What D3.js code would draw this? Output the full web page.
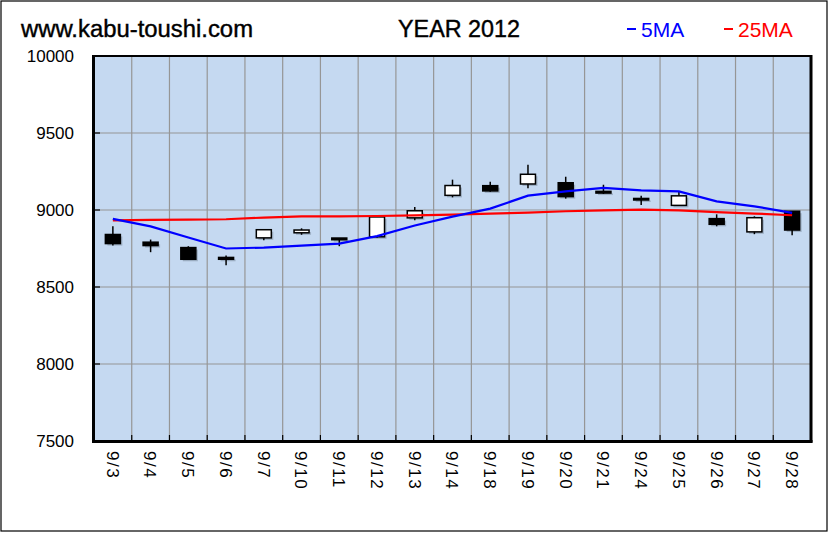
<!DOCTYPE html>
<html>
<head>
<meta charset="utf-8">
<script src="https://cdn.jsdelivr.net/npm/d3@7"></script>
<style>
  html, body { margin: 0; padding: 0; background: #fff; }
  svg { display: block; }
  text { font-family: "Liberation Sans", Arial, sans-serif; }
</style>
</head>
<body>
<svg id="chart" width="830" height="534"></svg>
<script>
const dates = ["9/3","9/4","9/5","9/6","9/7","9/10","9/11","9/12","9/13","9/14","9/18","9/19","9/20","9/21","9/24","9/25","9/26","9/27","9/28"];
const openV  = [8841, 8791, 8756, 8692, 8819, 8852, 8818, 8826, 8949, 9095, 9158, 9169, 9177, 9121, 9075, 9030, 8944, 8858, 8992];
const highV  = [8894, 8808, 8765, 8705, 8873, 8881, 8818, 8960, 9020, 9197, 9184, 9294, 9216, 9164, 9093, 9117, 8972, 8959, 8992];
const lowV   = [8769, 8726, 8679, 8642, 8804, 8839, 8765, 8819, 8933, 9082, 9119, 9141, 9074, 9104, 9033, 9030, 8894, 8843, 8836];
const closeV = [8782, 8769, 8680, 8680, 8872, 8870, 8807, 8955, 8995, 9159, 9124, 9232, 9087, 9110, 9065, 9092, 8907, 8950, 8870];
const ma5  = [8942, 8894, 8821, 8750, 8756, 8769, 8782, 8830, 8899, 8957, 9009, 9093, 9121, 9143, 9128, 9121, 9056, 9024, 8981];
const ma25 = [8933, 8936, 8938, 8940, 8951, 8958, 8959, 8961, 8965, 8970, 8977, 8983, 8992, 8998, 9002, 8998, 8986, 8977, 8966];
const yTicks = [7500, 8000, 8500, 9000, 9500, 10000];
const titleLeft = "www.kabu-toushi.com";
const titleMid = "YEAR 2012";
const legendItems = [{label: "5MA", color: "#0000FF"}, {label: "25MA", color: "#FF0000"}];

const svg = d3.select("#chart");
const L = 94, R = 811, T = 56, B = 441;

const x = d3.scaleBand().domain(dates).range([L, R]).padding(0);
const y = d3.scaleLinear().domain([7500, 10000]).range([B, T]);

// outer border
svg.append("rect").attr("x", 1).attr("y", 1).attr("width", 826).attr("height", 530)
  .attr("fill", "#fff").attr("stroke", "#000").attr("stroke-width", 1.2);

// plot background
svg.append("rect").attr("x", L).attr("y", T).attr("width", R - L).attr("height", B - T)
  .attr("fill", "#C5D9F1");

// horizontal gridlines
svg.append("g").selectAll("line").data(yTicks.filter(d => d > 7500 && d < 10000)).join("line")
  .attr("x1", L).attr("x2", R).attr("y1", d => y(d)).attr("y2", d => y(d))
  .attr("stroke", "#969696").attr("stroke-width", 1.2);

// vertical gridlines
svg.append("g").selectAll("line").data(dates.slice(1)).join("line")
  .attr("x1", d => x(d)).attr("x2", d => x(d)).attr("y1", T).attr("y2", B)
  .attr("stroke", "#969696").attr("stroke-width", 1.2);

// tick marks: left axis (inward), bottom axis (inward)
svg.append("g").selectAll("line").data(yTicks).join("line")
  .attr("x1", L).attr("x2", L + 6).attr("y1", d => y(d)).attr("y2", d => y(d))
  .attr("stroke", "#000").attr("stroke-width", 1.2);
svg.append("g").selectAll("line").data(dates.slice(1)).join("line")
  .attr("x1", d => x(d)).attr("x2", d => x(d)).attr("y1", B - 6).attr("y2", B)
  .attr("stroke", "#000").attr("stroke-width", 1.2);

// candles
const idx = d3.range(dates.length);
const cw = 15;
const cg = svg.append("g");
// shadows
cg.selectAll("rect.sh").data(idx).join("rect").attr("class", "sh")
  .attr("x", i => x(dates[i]) + x.bandwidth() / 2 - cw / 2 + 2)
  .attr("y", i => y(Math.max(openV[i], closeV[i])) + 2)
  .attr("width", cw)
  .attr("height", i => Math.max(1.5, y(Math.min(openV[i], closeV[i])) - y(Math.max(openV[i], closeV[i]))))
  .attr("fill", "#6f7f90").attr("opacity", 0.45);
cg.selectAll("line.wick").data(idx).join("line").attr("class", "wick")
  .attr("x1", i => x(dates[i]) + x.bandwidth() / 2)
  .attr("x2", i => x(dates[i]) + x.bandwidth() / 2)
  .attr("y1", i => y(highV[i])).attr("y2", i => y(lowV[i]))
  .attr("stroke", "#000").attr("stroke-width", 1.5);
cg.selectAll("rect.body").data(idx).join("rect").attr("class", "body")
  .attr("x", i => x(dates[i]) + x.bandwidth() / 2 - cw / 2)
  .attr("y", i => y(Math.max(openV[i], closeV[i])))
  .attr("width", cw)
  .attr("height", i => Math.max(1.5, y(Math.min(openV[i], closeV[i])) - y(Math.max(openV[i], closeV[i]))))
  .attr("fill", i => closeV[i] >= openV[i] ? "#fff" : "#000")
  .attr("stroke", "#000").attr("stroke-width", 1.5);

// moving averages
const line = d3.line().x((d, i) => x(dates[i]) + x.bandwidth() / 2).y(d => y(d));
svg.append("path").datum(ma25).attr("d", line).attr("fill", "none")
  .attr("stroke", "#FF0000").attr("stroke-width", 2.2);
svg.append("path").datum(ma5).attr("d", line).attr("fill", "none")
  .attr("stroke", "#0000FF").attr("stroke-width", 2.2);

// frame
svg.append("line").attr("x1", L).attr("x2", R).attr("y1", T).attr("y2", T).attr("stroke", "#000").attr("stroke-width", 2);
svg.append("line").attr("x1", L - 0.5).attr("x2", L - 0.5).attr("y1", T - 1).attr("y2", B + 1.5).attr("stroke", "#000").attr("stroke-width", 3);
svg.append("line").attr("x1", R).attr("x2", R).attr("y1", T - 1).attr("y2", B + 1.5).attr("stroke", "#000").attr("stroke-width", 3);
svg.append("line").attr("x1", L - 2).attr("x2", R + 1.5).attr("y1", B + 0.5).attr("y2", B + 0.5).attr("stroke", "#000").attr("stroke-width", 3);

// y labels
svg.append("g").selectAll("text").data(yTicks).join("text")
  .attr("x", 74).attr("y", d => y(d)).attr("dy", "0.36em")
  .attr("text-anchor", "end").attr("font-size", 17).attr("fill", "#000")
  .text(d => d);

// x labels (rotated)
svg.append("g").selectAll("text").data(dates).join("text")
  .attr("transform", d => `translate(${x(d) + x.bandwidth() / 2},451) rotate(90)`)
  .attr("dy", "0.36em").attr("text-anchor", "start")
  .attr("font-size", 17).attr("letter-spacing", "1.5px").attr("fill", "#000")
  .text(d => d);

// titles
svg.append("text").attr("x", 21).attr("y", 37).attr("font-size", 23)
  .attr("stroke", "#000").attr("stroke-width", 0.4)
  .attr("textLength", 232).attr("lengthAdjust", "spacingAndGlyphs").text(titleLeft);
svg.append("text").attr("x", 398).attr("y", 37).attr("font-size", 23)
  .attr("stroke", "#000").attr("stroke-width", 0.4)
  .attr("textLength", 122).attr("lengthAdjust", "spacingAndGlyphs").text(titleMid);

// legend
const legX = [627, 724];
legendItems.forEach((it, k) => {
  svg.append("line").attr("x1", legX[k]).attr("x2", legX[k] + 9).attr("y1", 29).attr("y2", 29)
    .attr("stroke", it.color).attr("stroke-width", 2);
  svg.append("text").attr("x", legX[k] + 14).attr("y", 37).attr("font-size", 21)
    .attr("fill", it.color).text(it.label);
});
</script>
</body>
</html>
